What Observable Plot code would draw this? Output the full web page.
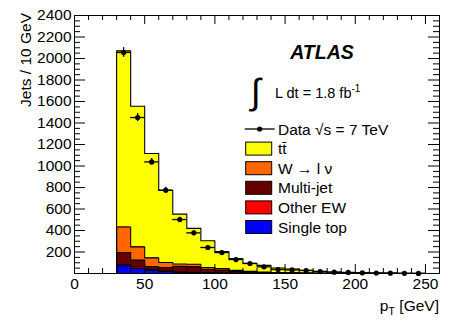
<!DOCTYPE html>
<html>
<head>
<meta charset="utf-8">
<script src="https://cdn.jsdelivr.net/npm/d3@7"></script>
<script src="https://cdn.jsdelivr.net/npm/@observablehq/plot@0.6"></script>
<style>
  html, body { margin: 0; padding: 0; background: #fff; }
  svg text { font-family: "Liberation Sans", Arial, sans-serif; }
</style>
</head>
<body>
<div id="chart"></div>
<script>
// ---- data (jet pT, 10 GeV bins starting at 30 GeV) ----
const binLow = [30, 40, 50, 60, 70, 80, 90, 100, 110, 120, 130, 140, 150, 160, 170, 180, 190, 200, 210, 220, 230, 240];
const binWidth = 10;
const singleTop = [70, 46, 30, 18, 12, 8, 6, 4, 3, 2, 1.5, 1, 0.8, 0.5, 0.4, 0.3, 0.2, 0.2, 0.1, 0.1, 0.1, 0.05];
const otherEW   = [14, 14, 8, 5, 4, 3, 2, 2, 1.5, 1, 1, 0.5, 0.4, 0.3, 0.2, 0.2, 0.1, 0.1, 0.1, 0.1, 0.05, 0.05];
const multiJet  = [111, 64, 25, 30, 50, 50, 30, 25, 15, 10, 6, 4, 3, 2, 1.5, 1, 0.8, 0.5, 0.4, 0.3, 0.2, 0.1];
const wToLnu    = [238, 124, 82, 50, 22, 25, 18, 15, 10, 7, 5, 4, 3, 2, 1.5, 1, 0.8, 0.5, 0.4, 0.3, 0.2, 0.1];
const ttbar     = [1638, 1308, 971, 672, 464, 334, 249, 159, 110, 75, 62, 42, 35, 25, 16, 11.5, 8, 6, 4, 3, 2, 1.2];
const dataVals  = [2056, 1451, 1038, 775, 502, 378, 242, 195, 130, 93, 62, 37, 33, 28, 18, 12, 10, 6, 4, 3, 2, 1];
const dataErr   = [45, 38, 32, 28, 22, 19, 16, 14, 11, 10, 8, 6, 6, 5, 4, 3.5, 3, 2.5, 2, 1.7, 1.4, 1];

const yMajor = [200, 400, 600, 800, 1000, 1200, 1400, 1600, 1800, 2000, 2200, 2400];
const xMajor = [0, 50, 100, 150, 200, 250];

const compNames  = ["Single top", "Other EW", "Multi-jet", "W \u2192 l \u03bd", "tt\u0304"];
const compColors = ["#0000ff", "#ff0000", "#660000", "#ff6600", "#ffff00"];
const compSeries = [singleTop, otherEW, multiJet, wToLnu, ttbar];

// ---- build tables ----
const rects = [];
const outline = [];
const cum = binLow.map(() => 0);
compSeries.forEach((series, k) => {
  const tops = [];
  binLow.forEach((lo, i) => {
    const y1 = cum[i];
    const y2 = cum[i] + series[i];
    cum[i] = y2;
    rects.push({x1: lo, x2: lo + binWidth, y1, y2, fill: compColors[k]});
    tops.push(y2);
  });
  const pts = [{x: binLow[0], y: 0, k}];
  binLow.forEach((lo, i) => pts.push({x: lo, y: tops[i], k}));
  pts.push({x: binLow[binLow.length - 1] + binWidth, y: 0, k});
  outline.push(pts);
});
const outlineRows = outline.slice().reverse().flat();

const dataRows = binLow.map((lo, i) => ({
  lo, hi: lo + binWidth, c: lo + binWidth / 2, v: dataVals[i],
  e1: dataVals[i] - dataErr[i], e2: dataVals[i] + dataErr[i]
}));

const yMinor = d3.range(50, 2400, 50).filter(v => v % 200 !== 0);
const xMinor = d3.range(10, 260, 10).filter(v => v % 50 !== 0);

const W = 463, H = 327;
const mL = 74, mR = 24, mT = 15, mB = 54;
const innerW = W - mL - mR, innerH = H - mT - mB;

const plot = Plot.plot({
  width: W, height: H,
  marginLeft: mL, marginRight: mR, marginTop: mT, marginBottom: mB,
  style: {fontFamily: "Liberation Sans, Arial, sans-serif", fontSize: "15.5px", color: "#000", background: "#fff"},
  x: {domain: [0, 260], axis: null},
  y: {domain: [0, 2400], axis: null},
  marks: [
    Plot.rect(rects, {x1: "x1", x2: "x2", y1: "y1", y2: "y2", fill: "fill", shapeRendering: "crispEdges"}),
    Plot.line(outlineRows, {x: "x", y: "y", z: "k", curve: "step-after", stroke: "#000", strokeWidth: 1.1}),
    Plot.ruleY(dataRows, {y: "v", x1: "lo", x2: "hi", stroke: "#000", strokeWidth: 1.3}),
    Plot.ruleX(dataRows, {x: "c", y1: "e1", y2: "e2", stroke: "#000", strokeWidth: 1.3}),
    Plot.dot(dataRows, {x: "c", y: "v", r: 2.6, fill: "#000", stroke: "none"}),
    Plot.tickY(yMajor, {y: d => d, insetRight: innerW - 11, stroke: "#000"}),
    Plot.tickY(yMinor, {y: d => d, insetRight: innerW - 6, stroke: "#000"}),
    Plot.tickY(yMajor, {y: d => d, insetLeft: innerW - 11, stroke: "#000"}),
    Plot.tickY(yMinor, {y: d => d, insetLeft: innerW - 6, stroke: "#000"}),
    Plot.tickX(xMajor, {x: d => d, insetTop: innerH - 9, stroke: "#000"}),
    Plot.tickX(xMinor, {x: d => d, insetTop: innerH - 5, stroke: "#000"}),
    Plot.tickX(xMajor, {x: d => d, insetBottom: innerH - 9, stroke: "#000"}),
    Plot.tickX(xMinor, {x: d => d, insetBottom: innerH - 5, stroke: "#000"}),
    Plot.axisY(yMajor, {tickSize: 0, tickPadding: 3, label: null, tickFormat: d => String(d), fontSize: 15.5}),
    Plot.axisX(xMajor, {tickSize: 0, tickPadding: 4, label: null, tickFormat: d => String(d), fontSize: 15.5}),
    Plot.frame({stroke: "#000", strokeWidth: 1})
  ]
});

document.getElementById("chart").appendChild(plot);

// ---- titles and legend ----
const svg = d3.select(plot);
const font = "Liberation Sans, Arial, sans-serif";
const addText = (x, y, anchor, size) => svg.append("text")
  .attr("x", x).attr("y", y)
  .attr("text-anchor", anchor)
  .attr("font-family", font).attr("font-size", size).attr("fill", "#000");

// y title
svg.append("text")
  .attr("transform", "translate(30.5,13) rotate(-90)")
  .attr("text-anchor", "end")
  .attr("font-family", font).attr("font-size", 15.5).attr("fill", "#000")
  .text("Jets / 10 GeV");

// x title
const xt = addText(439, 311, "end", 15.5);
xt.append("tspan").text("p");
xt.append("tspan").attr("font-size", 11).attr("dy", 4).text("T");
xt.append("tspan").attr("dy", -4).text(" [GeV]");

// ATLAS
addText(322, 58.5, "middle", 19.5)
  .attr("font-weight", "bold").attr("font-style", "italic")
  .text("ATLAS");

// integral luminosity
svg.append("text")
  .attr("x", 251).attr("y", 104).attr("text-anchor", "start")
  .attr("font-family", "DejaVu Sans, sans-serif").attr("font-size", 36).attr("fill", "#000")
  .text("\u222B");
const lum = addText(275, 97.5, "start", 14.5);
lum.append("tspan").text("L dt = 1.8 fb");
lum.append("tspan").attr("font-size", 10).attr("dy", -6).text("-1");

// legend
const lx = 245.7, rowY0 = 129, rowStep = 19.6, textX = 278;
svg.append("line").attr("x1", lx - 1).attr("x2", lx + 29).attr("y1", rowY0).attr("y2", rowY0)
  .attr("stroke", "#000").attr("stroke-width", 1.3);
svg.append("circle").attr("cx", lx + 14).attr("cy", rowY0).attr("r", 2.6).attr("fill", "#000");
addText(textX, rowY0 + 5.5, "start", 15.5).text("Data \u221As = 7 TeV");

const legendOrder = [4, 3, 2, 1, 0];
legendOrder.forEach((k, j) => {
  const cy = rowY0 + rowStep * (j + 1);
  svg.append("rect").attr("x", lx).attr("y", cy - 6.5).attr("width", 26).attr("height", 13)
    .attr("fill", compColors[k]).attr("stroke", "#000").attr("stroke-width", 1);
  addText(textX, cy + 5.5, "start", 15.5).text(compNames[k]);
});
</script>
</body>
</html>
